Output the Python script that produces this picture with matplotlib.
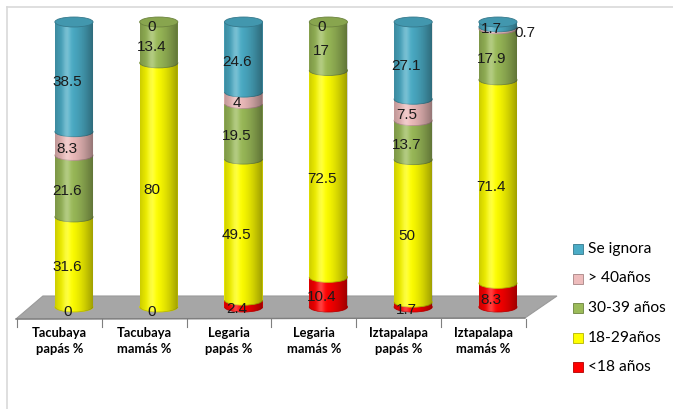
import numpy as np
import matplotlib.pyplot as plt
from matplotlib.patches import Ellipse, Rectangle, Polygon
from matplotlib.lines import Line2D
from matplotlib.colors import to_rgb

# data (percent)
categorias = ['Tacubaya\npapás %', 'Tacubaya\nmamás %', 'Legaria\npapás %',
              'Legaria\nmamás %', 'Iztapalapa\npapás %', 'Iztapalapa\nmamás %']
menor18 = [0, 0, 2.4, 10.4, 1.7, 8.3]
e18_29 = [31.6, 80, 49.5, 72.5, 50, 71.4]
e30_39 = [21.6, 13.4, 19.5, 17, 13.7, 17.9]
mayor40 = [8.3, np.nan, 4, np.nan, 7.5, 0.7]
se_ignora = [38.5, 0, 24.6, 0, 27.1, 1.7]

series = [menor18, e18_29, e30_39, mayor40, se_ignora]
nombres = ['<18 años', '18-29años', '30-39 años', '> 40años', 'Se ignora']
colores = ['#FF0000', '#FFFF00', '#9BBB59', '#EEBCBC', '#4BACC6']

W, H = 673, 409
fig = plt.figure(figsize=(W / 100, H / 100), dpi=100)
ax = fig.add_axes([14.6 / W, 16.5 / H, 544.4 / W, 376.2 / H])


def darker(col, f=0.75):
    r, g, b = to_rgb(col)
    return (r * f, g * f, b * f)


bw = 0.45   # cylinder width (x units)
eh = 3.5    # ellipse height (y units)

# floor
floor = Polygon([(-0.684, -4.21), (5.318, -3.86), (5.696, 3.86), (-0.366, 3.86)],
                closed=True, facecolor='#A6A6A6', edgecolor='#9A9A9A', lw=0.8)
ax.add_patch(floor)
ax.plot([-0.684, 5.318], [-4.21, -3.86], color='#7F7F7F', lw=1.0)
for k in range(7):
    xt = k - 0.672
    ax.plot([xt, xt], [-4.1, -7.0], color='#7F7F7F', lw=0.8)

# gradient for the cylinder look
t = np.linspace(0, 1, 80)
dark = np.where(t < 0.35, 0.2 * ((0.35 - t) / 0.35) ** 1.4, 0.4 * ((t - 0.35) / 0.65) ** 1.6)
sombra = np.zeros((1, len(t), 4))
sombra[..., 3] = dark
brillo = np.ones((1, len(t), 4))
brillo[..., 3] = 0.25 * np.exp(-((t - 0.3) / 0.1) ** 2)

vals = np.array(series, dtype=float)
totales = np.nansum(vals, axis=0)

for i in range(len(categorias)):
    alturas = np.nan_to_num(vals[:, i]) / totales[i] * 100
    base = 0
    ultimo = colores[0]
    for k in range(len(series)):
        h = alturas[k]
        if h > 0:
            ax.add_patch(Ellipse((i, base), bw, eh, facecolor=colores[k],
                                 edgecolor=darker(colores[k], 0.8), lw=0.6))
            ax.add_patch(Rectangle((i - bw / 2, base), bw, h,
                                   facecolor=colores[k], edgecolor='none'))
            ultimo = colores[k]
        base += h
    # shading clipped to the body
    ang = np.linspace(np.pi, 2 * np.pi, 40)
    pts = [(i - bw / 2, 100)] + [(i + bw / 2 * np.cos(a), eh / 2 * np.sin(a)) for a in ang] + [(i + bw / 2, 100)]
    clip = Polygon(pts, closed=True, transform=ax.transData)
    for img in (sombra, brillo):
        im = ax.imshow(img, extent=(i - bw / 2, i + bw / 2, -eh, 100), aspect='auto',
                       interpolation='bilinear', zorder=1)
        im.set_clip_path(clip)
    # top cap
    ax.add_patch(Ellipse((i, 100), bw, eh, facecolor=darker(ultimo, 0.88),
                         edgecolor=darker(ultimo, 0.7), lw=0.6))

    # value labels
    base = 0
    for k in range(len(series)):
        v = vals[k, i]
        h = alturas[k]
        if not np.isnan(v):
            dx = -0.08
            if i == 5 and k == 3:
                dx = 0.32
            ax.text(i + dx, base + h / 2 - 1.75, '{:g}'.format(v), ha='center', va='center',
                    fontsize=11, family='Liberation Sans', color='#1A1A1A', zorder=10)
        base += h

    ax.text(i - 0.172, -12.1, categorias[i], ha='center', va='center', fontsize=9.3,
            family='Lato', fontweight='bold', linespacing=1.4)

ax.set_xlim(-0.7, 5.72)
ax.set_ylim(-30, 102)
ax.axis('off')

# legend
ys = [249, 278.5, 308, 337.5, 367]
for nombre, col, y in zip(nombres[::-1], colores[::-1], ys):
    fig.patches.append(Rectangle((573 / W, 1 - (y + 5) / H), 10 / W, 10 / H, transform=fig.transFigure,
                                 facecolor=col, edgecolor=darker(col, 0.7), lw=0.6))
    fig.text(588 / W, 1 - y / H, nombre, ha='left', va='center', fontsize=11.2, family='Lato')

# chart border
fig.add_artist(Line2D([7 / W, 7 / W], [0, 1 - 7 / H], color='#D9D9D9', lw=1.2))
fig.add_artist(Line2D([7 / W, 1], [1 - 7 / H, 1 - 7 / H], color='#D9D9D9', lw=1.2))

fig.savefig('out.png', dpi=100)
